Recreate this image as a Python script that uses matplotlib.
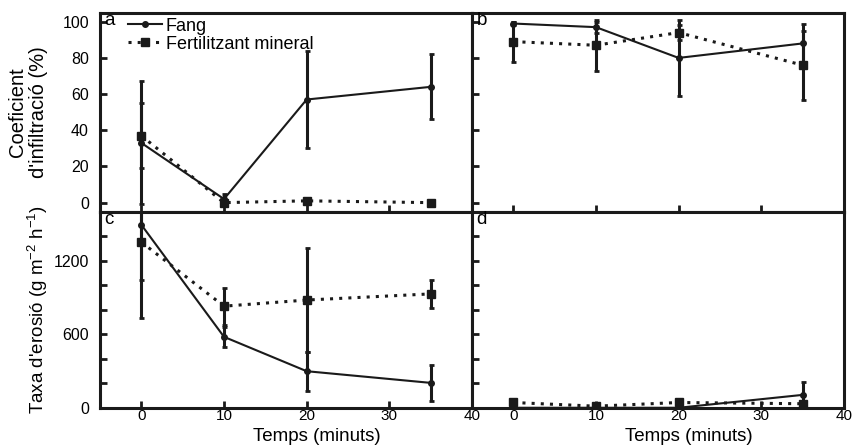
import matplotlib
matplotlib.use('Agg')
import matplotlib.pyplot as plt
import numpy as np

plt.rcParams['font.family'] = ['Liberation Sans', 'DejaVu Sans']
plt.rcParams['mathtext.fontset'] = 'custom'
plt.rcParams['mathtext.rm'] = 'Liberation Sans'
plt.rcParams['mathtext.it'] = 'Liberation Sans:italic'

# data
temps = [0, 10, 20, 35]
series_names = ['Fang', 'Fertilitzant mineral']

# coeficient d'infiltracio (%)
infil_a_fang = [33, 2, 57, 64]
infil_a_fang_err = [34, 3, 27, 18]
infil_a_fert = [37, 0, 1, 0]
infil_a_fert_err = [18, 1, 0, 0]

infil_b_fang = [99, 97, 80, 88]
infil_b_fang_err = [1, 3, 21, 11]
infil_b_fert = [89, 87, 94, 76]
infil_b_fert_err = [11, 14, 4, 19]

# taxa d'erosio (g m-2 h-1)
eros_c_fang = [1493, 580, 300, 205]
eros_c_fang_err = [448, 80, 160, 148]
eros_c_fert = [1352, 830, 880, 930]
eros_c_fert_err = [619, 150, 420, 117]

eros_d_fang = [2, 2, 2, 107]
eros_d_fang_err = [0, 0, 0, 106]
eros_d_fert = [45, 15, 45, 35]
eros_d_fert_err = [0, 0, 0, 0]

col = '#1a1a1a'

fig = plt.figure(figsize=(8.55, 4.45), dpi=100)
w = 0.435
ax_a = fig.add_axes([0.117, 0.5243, w, 0.4472])
ax_b = fig.add_axes([0.552, 0.5243, w, 0.4472])
ax_c = fig.add_axes([0.117, 0.0831, w, 0.4412])
ax_d = fig.add_axes([0.552, 0.0831, w, 0.4412])


def draw(ax, fang, fang_err, fert, fert_err):
    e1 = ax.errorbar(temps, fert, yerr=fert_err, color=col, ls=(0, (1, 2)), lw=2.2,
                     marker='s', ms=5.5, capsize=1.8, elinewidth=2.2, capthick=2.0,
                     zorder=3)
    e2 = ax.errorbar(temps, fang, yerr=fang_err, color=col, ls='-', lw=1.5,
                     marker='o', ms=4, capsize=1.8, elinewidth=2.2, capthick=2.0,
                     zorder=4)
    return e2[0], e1[0]


h_fang, h_fert = draw(ax_a, infil_a_fang, infil_a_fang_err, infil_a_fert, infil_a_fert_err)
draw(ax_b, infil_b_fang, infil_b_fang_err, infil_b_fert, infil_b_fert_err)
draw(ax_c, eros_c_fang, eros_c_fang_err, eros_c_fert, eros_c_fert_err)
draw(ax_d, eros_d_fang, eros_d_fang_err, eros_d_fert, eros_d_fert_err)

for ax, letter in zip([ax_a, ax_b, ax_c, ax_d], ['a', 'b', 'c', 'd']):
    ax.set_xlim(-5, 40)
    ax.set_xticks([0, 10, 20, 30, 40])
    ax.tick_params(direction='in', length=5, width=2, labelsize=11.5, colors=col,
                   labelcolor='black')
    ax.tick_params(axis='y', pad=8)
    ax.tick_params(axis='x', pad=1, labelsize=11)
    for s in ax.spines.values():
        s.set_linewidth(2.2)
        s.set_color(col)
    ax.text(0.012, 1.005, letter, transform=ax.transAxes, fontsize=13.5,
            va='top', ha='left')

for ax in [ax_a, ax_b]:
    ax.set_ylim(-5, 105)
    ax.set_yticks([0, 20, 40, 60, 80, 100])
    ax.tick_params(labelbottom=False)
    ax.set_xticks([0, 10, 20, 30])

for ax in [ax_c, ax_d]:
    ax.set_ylim(0, 1600)
    ax.set_yticks(np.arange(0, 1600, 200))
    ax.set_xlabel('Temps (minuts)', fontsize=13.5, va='bottom')
    ax.xaxis.set_label_coords(0.582, -0.186)

ax_c.set_yticklabels(['0', '', '', '600', '', '', '1200', ''])
ax_b.tick_params(labelleft=False)
ax_d.tick_params(labelleft=False)

ax_a.set_ylabel("Coeficient\nd'infiltració (%)", fontsize=14.5, linespacing=1.1)
ax_a.yaxis.set_label_coords(-0.14, 0.5)
ax_c.set_ylabel("Taxa d'erosió (g m$^{-2}$ h$^{-1}$)", fontsize=13.5)
ax_c.yaxis.set_label_coords(-0.135, 0.5)

ax_a.legend([h_fang, h_fert], series_names, loc='upper left',
            bbox_to_anchor=(0.075, 0.975), frameon=False, fontsize=13,
            handlelength=1.9, handletextpad=0.2, labelspacing=0.05,
            borderaxespad=0.0, borderpad=0.0)

fig.savefig('out.png', dpi=100)
